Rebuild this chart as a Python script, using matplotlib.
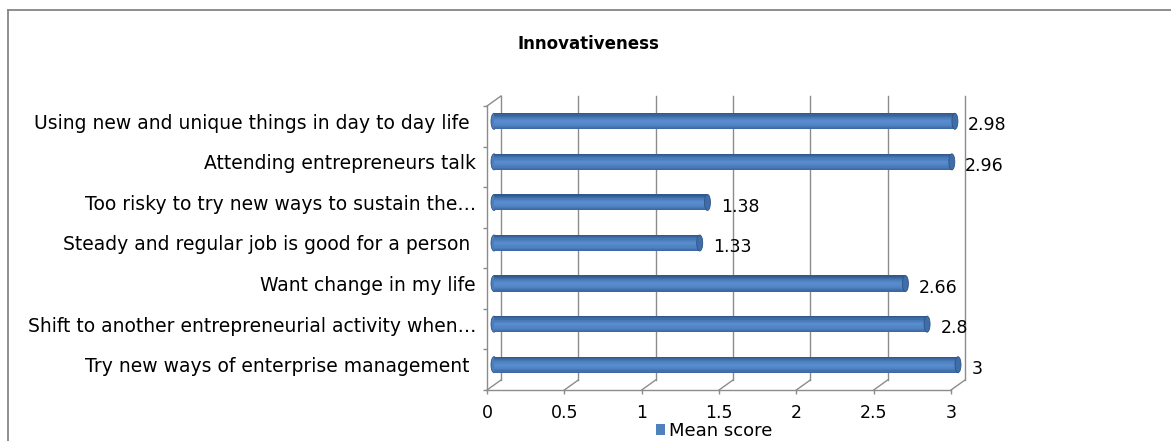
import numpy as np
import matplotlib.pyplot as plt
from matplotlib.patches import Ellipse, Patch
from matplotlib.lines import Line2D
from matplotlib.colors import LinearSegmentedColormap

# data (bottom to top, as drawn by barh)
categories = [
    'Try new ways of enterprise management ',
    'Shift to another entrepreneurial activity when\u2026',
    'Want change in my life',
    'Steady and regular job is good for a person ',
    'Too risky to try new ways to sustain the\u2026',
    'Attending entrepreneurs talk',
    'Using new and unique things in day to day life ',
]
mean_score = [3, 2.8, 2.66, 1.33, 1.38, 2.96, 2.98]
xticks = [0, 0.5, 1, 1.5, 2, 2.5, 3]

W, H = 1171, 441
fig = plt.figure(figsize=(W / 100, H / 100), dpi=100)
ax = fig.add_axes([487 / W, (H - 390) / H, 464 / W, 284 / H])

n = len(categories)
y = np.arange(n)
ax.set_xlim(0, 3)
ax.set_ylim(-0.5, n - 0.5)

# pseudo 3d depth, in data units (about 14px right, 10px up)
dx = 14 / (464 / 3)
dy = 10 / (284 / n)
grid_c = '#8c8c8c'

# back wall grid lines
for xv in xticks:
    ax.plot([xv + dx, xv + dx], [-0.5 + dy, n - 0.5 + dy], color=grid_c, lw=1.0, clip_on=False, zorder=1)
    # floor diagonals
    ax.plot([xv, xv + dx], [-0.5, -0.5 + dy], color=grid_c, lw=1.0, clip_on=False, zorder=1)
# side wall top edge
ax.plot([0, dx], [n - 0.5, n - 0.5 + dy], color=grid_c, lw=1.0, clip_on=False, zorder=1)

# cylinder-ish bars at mid depth, shaded with thin horizontal bands
yc = y + dy / 2
left = dx / 2
bh = 0.395
cap_w = 6 / (464 / 3)
shade = LinearSegmentedColormap.from_list('cyl', ['#2F5486', '#4678B6', '#5B8ED0', '#4F82C1', '#3A64A0'])
nb = 14
for yi, v in zip(yc, mean_score):
    ax.add_patch(Ellipse((left, yi), cap_w, bh, facecolor='#4A7EBD', edgecolor='#2F5486',
                         lw=0.6, zorder=2, clip_on=False))
for k in range(nb):
    frac = (k + 0.5) / nb
    ax.barh(yc - bh / 2 + bh * k / nb, mean_score, left=left, height=bh / nb + 0.002, align='edge',
            color=shade(1 - frac), lw=0, zorder=3, clip_on=False)
for yi, v in zip(yc, mean_score):
    ax.add_patch(Ellipse((left + v, yi), cap_w, bh, facecolor='#3E6DA8', edgecolor='#2F5486',
                         lw=0.6, zorder=4, clip_on=False))
    ax.annotate('%g' % v, (left + v, yi), xytext=(9.5, -3), textcoords='offset points',
                ha='left', va='center', fontsize=12.5, zorder=5, annotation_clip=False)

# axes: front frame
for s in ['top', 'right']:
    ax.spines[s].set_visible(False)
for s in ['left', 'bottom']:
    ax.spines[s].set_color(grid_c)
    ax.spines[s].set_linewidth(1.0)

ax.set_xticks(xticks)
ax.set_xticklabels(['%g' % t for t in xticks])
ax.tick_params(axis='x', length=3, width=1.0, color=grid_c, pad=7, labelsize=12.5)

ax.set_yticks(yc)
ax.set_yticklabels(categories)
ax.tick_params(axis='y', which='major', length=0, pad=8, labelsize=13.5)
ax.set_yticks(np.arange(n + 1) - 0.5, minor=True)
ax.tick_params(axis='y', which='minor', length=3, width=1.0, color=grid_c)

fig.text(588 / W, 1 - 44 / H, 'Innovativeness', ha='center', va='center', fontsize=12, fontweight='bold')

fig.legend(handles=[Patch(facecolor='#4F81BD', edgecolor='none', label='Mean score')],
           loc='center', bbox_to_anchor=(714 / W, 1 - 431 / H), frameon=False,
           fontsize=13, handlelength=0.55, handleheight=0.55, handletextpad=0.2, borderpad=0)

# outer chart border (only left and top visible in the crop)
fig.add_artist(Line2D([8 / W, 8 / W], [0, 1 - 10 / H], color='#868686', lw=1.3))
fig.add_artist(Line2D([8 / W, 1], [1 - 10 / H, 1 - 10 / H], color='#868686', lw=1.3))

fig.savefig('out.png', dpi=100)
